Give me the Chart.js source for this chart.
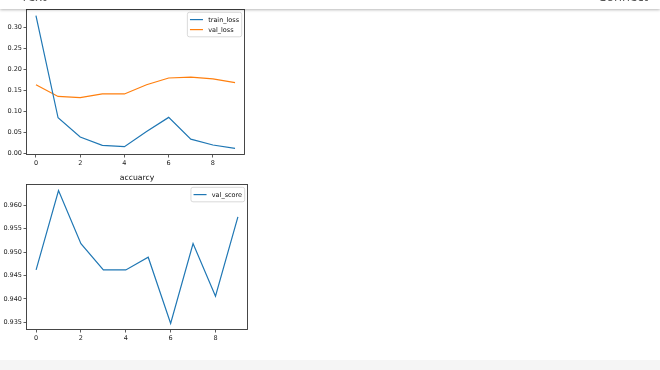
<!DOCTYPE html>
<html>
<head>
<meta charset="utf-8">
<script src="https://cdn.jsdelivr.net/npm/chart.js@4"></script>
<style>
  html, body { margin: 0; padding: 0; background: #fff; width: 660px; height: 370px; overflow: hidden; font-family: "DejaVu Sans", sans-serif; }
  .toolbar { position: absolute; left: 0; top: 0; width: 660px; height: 9px; background: #fff; box-shadow: 0 1px 3px rgba(0,0,0,0.28); z-index: 5; overflow: hidden; }
  .toolbar span { position: absolute; top: -13px; font-size: 13px; color: #555; font-family: "Open Sans", sans-serif; }
  .footer { position: absolute; left: 0; top: 360px; width: 660px; height: 10px; background: #f5f5f5; }
  canvas { position: absolute; left: 0; }
</style>
</head>
<body>
<div class="toolbar"><span style="left:10px">+ Text</span><span style="left:598px">Connect</span></div>
<canvas id="lossChart" width="260" height="170" style="top:0"></canvas>
<canvas id="scoreChart" width="260" height="180" style="top:170px"></canvas>
<div class="footer"></div>
<script>
const epochs = [0, 1, 2, 3, 4, 5, 6, 7, 8, 9];
const trainLoss = [0.329, 0.085, 0.039, 0.019, 0.016, 0.052, 0.086, 0.034, 0.020, 0.012];
const valLoss = [0.164, 0.136, 0.133, 0.142, 0.142, 0.164, 0.180, 0.182, 0.178, 0.169];
const valScore = [0.9462, 0.9631, 0.9518, 0.9462, 0.9462, 0.9489, 0.9348, 0.9518, 0.9406, 0.9575];
const epochTicks = [0, 2, 4, 6, 8];
const lossTicks = [0, 0.05, 0.10, 0.15, 0.20, 0.25, 0.30];
const scoreTicks = [0.935, 0.940, 0.945, 0.950, 0.955, 0.960];

const BLUE = "#1f77b4";
const ORANGE = "#ff7f0e";
const FONT = "DejaVu Sans";
const TICK_SIZE = 6.5;

// matplotlib style 5% margins
function padRange(values) {
  const lo = Math.min(...values), hi = Math.max(...values);
  const m = (hi - lo) * 0.05;
  return [lo - m, hi + m];
}

// frame, legend and title drawn like matplotlib
function makeDecor(title, items) {
  return {
    id: "mplDecor",
    afterDraw(chart) {
      const ctx = chart.ctx;
      const ca = chart.chartArea;
      ctx.save();
      ctx.strokeStyle = "#333";
      ctx.lineWidth = 0.9;
      ctx.strokeRect(Math.round(ca.left) + 0.5, Math.round(ca.top) + 0.5,
        Math.round(ca.right - ca.left) - 1, Math.round(ca.bottom - ca.top) - 1);

      if (title) {
        ctx.font = "7.7px '" + FONT + "'";
        ctx.fillStyle = "#111";
        ctx.textAlign = "center";
        ctx.textBaseline = "alphabetic";
        ctx.fillText(title, (ca.left + ca.right) / 2, ca.top - 4);
      }

      const em = TICK_SIZE;
      ctx.font = em + "px '" + FONT + "'";
      const textW = Math.max(...items.map(it => ctx.measureText(it.label).width));
      const pad = 0.4 * em, handle = 2 * em, gap = 0.8 * em, rowH = 10;
      const boxW = pad * 2 + handle + gap + textW;
      const boxH = items.length * rowH + 4.5;
      const bx = ca.right - 3.3 - boxW;
      const by = ca.top + 3.3;
      ctx.fillStyle = "rgba(255,255,255,0.85)";
      ctx.strokeStyle = "#d0d0d0";
      ctx.lineWidth = 0.8;
      ctx.beginPath();
      ctx.roundRect(bx, by, boxW, boxH, 2);
      ctx.fill();
      ctx.stroke();
      items.forEach((it, i) => {
        const cy = by + 2.3 + rowH / 2 + i * rowH;
        ctx.strokeStyle = it.color;
        ctx.lineWidth = 1.2;
        ctx.beginPath();
        ctx.moveTo(bx + pad, cy);
        ctx.lineTo(bx + pad + handle, cy);
        ctx.stroke();
        ctx.fillStyle = "#111";
        ctx.textAlign = "left";
        ctx.textBaseline = "middle";
        ctx.fillText(it.label, bx + pad + handle + gap, cy + 0.5);
      });
      ctx.restore();
    }
  };
}

function axisOpts(range, ticks, digits, isX, size) {
  return {
    type: "linear",
    min: range[0],
    max: range[1],
    afterBuildTicks: (s) => { s.ticks = ticks.map(v => ({ value: v })); },
    afterFit: (s) => { if (isX) s.height = size; else s.width = size; },
    grid: { display: true, drawOnChartArea: false, drawTicks: true, tickLength: 2.5, color: "#333", lineWidth: 0.8 },
    border: { display: false },
    ticks: {
      autoSkip: false,
      maxRotation: 0,
      padding: 1.5,
      color: "#222",
      font: { family: FONT, size: TICK_SIZE },
      callback: (v) => Number(v).toFixed(digits)
    }
  };
}

function lineSet(label, values, color) {
  return {
    label,
    data: epochs.map((e, i) => ({ x: e, y: values[i] })),
    borderColor: color,
    backgroundColor: color,
    borderWidth: 1.2,
    pointRadius: 0,
    tension: 0,
    fill: false
  };
}

const xRange = [-0.45, epochs.length - 1 + 0.45];

new Chart(document.getElementById("lossChart"), {
  type: "line",
  data: {
    datasets: [
      lineSet("train_loss", trainLoss, BLUE),
      lineSet("val_loss", valLoss, ORANGE)
    ]
  },
  options: {
    responsive: false,
    animation: false,
    layout: { padding: { top: 9, right: 15, left: 0, bottom: 0 } },
    plugins: { legend: { display: false }, tooltip: { enabled: false } },
    scales: {
      x: axisOpts(xRange, epochTicks, 0, true, 15),
      y: axisOpts(padRange(trainLoss.concat(valLoss)), lossTicks, 2, false, 26)
    }
  },
  plugins: [makeDecor(null, [{ label: "train_loss", color: BLUE }, { label: "val_loss", color: ORANGE }])]
});

new Chart(document.getElementById("scoreChart"), {
  type: "line",
  data: {
    datasets: [lineSet("val_score", valScore, BLUE)]
  },
  options: {
    responsive: false,
    animation: false,
    layout: { padding: { top: 14, right: 12, left: 0, bottom: 0 } },
    plugins: { legend: { display: false }, tooltip: { enabled: false } },
    scales: {
      x: axisOpts(xRange, epochTicks, 0, true, 20),
      y: axisOpts(padRange(valScore), scoreTicks, 3, false, 26)
    }
  },
  plugins: [makeDecor("accuarcy", [{ label: "val_score", color: BLUE }])]
});
</script>
</body>
</html>
